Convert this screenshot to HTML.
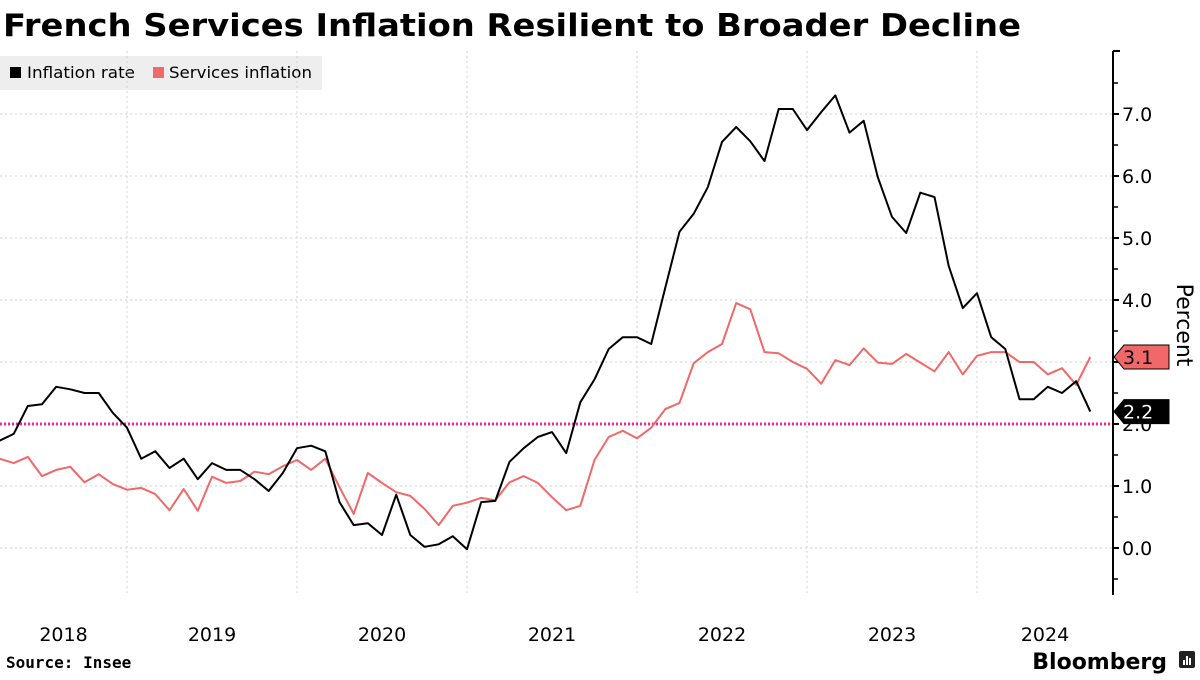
<!DOCTYPE html>
<html><head><meta charset="utf-8"><style>
body{margin:0;width:1200px;height:675px;background:#fff;overflow:hidden;font-family:"Liberation Sans","DejaVu Sans",sans-serif;}
svg text{font-family:"DejaVu Sans","Liberation Sans",sans-serif;}
</style></head><body>
<svg id="c" width="1200" height="675" xmlns="http://www.w3.org/2000/svg">
<text x="3" y="36" font-size="31" font-weight="bold" fill="#000" textLength="1018" lengthAdjust="spacingAndGlyphs" style="font-family:'DejaVu Sans',sans-serif">French Services Inflation Resilient to Broader Decline</text>
<g>
<rect x="0" y="56" width="322" height="34" fill="#eeeeee"/>
<g><rect x="10" y="67" width="11" height="11" fill="#000"/><text x="27" y="78" font-size="16" textLength="108" lengthAdjust="spacingAndGlyphs">Inflation rate</text></g>
<g><rect x="153" y="67" width="11" height="11" fill="#f06868"/><text x="169" y="78" font-size="16" textLength="143" lengthAdjust="spacingAndGlyphs">Services inflation</text></g>
</g>
<g id="grid"></g>
<g id="series"></g>
<g id="axis"></g>
<g id="xaxis"></g>
<text transform="translate(1177,325) rotate(90)" font-size="22" text-anchor="middle">Percent</text>
<text x="6" y="668" font-size="16" font-weight="bold" style="font-family:'DejaVu Sans Mono','Liberation Mono',monospace">Source: Insee</text>
<text x="1167" y="669" font-size="22" font-weight="bold" text-anchor="end">Bloomberg</text>
<g><rect x="1179" y="651" width="16" height="17" rx="2" fill="#222"/><rect x="1183" y="660" width="2" height="5" fill="#fff"/><rect x="1186" y="656" width="2" height="9" fill="#fff"/><rect x="1189" y="658" width="2" height="7" fill="#fff"/></g>
</svg>
<script>
const startYear = 2018, startMonth = 2; // March 2018 (0-based)
const inflationRate = [1.73,1.84,2.29,2.32,2.6,2.56,2.5,2.5,2.18,1.94,
1.44,1.56,1.29,1.44,1.11,1.37,1.26,1.26,1.11,0.92,1.21,1.61,
1.65,1.56,0.74,0.37,0.40,0.21,0.86,0.21,0.02,0.06,0.19,-0.02,
0.74,0.76,1.39,1.61,1.79,1.87,1.53,2.35,2.72,3.21,3.4,3.4,
3.29,4.2,5.1,5.39,5.82,6.55,6.79,6.56,6.24,7.08,7.08,6.74,
7.03,7.3,6.7,6.89,5.98,5.34,5.08,5.73,5.66,4.55,3.87,4.11,
3.4,3.21,2.4,2.4,2.6,2.5,2.69,2.2];
const servicesInflation = [1.44,1.37,1.47,1.16,1.26,1.31,1.06,1.19,1.03,0.94,
0.97,0.87,0.61,0.95,0.6,1.15,1.05,1.08,1.23,1.19,1.32,1.42,
1.26,1.44,0.98,0.55,1.21,1.05,0.9,0.84,0.63,0.37,0.68,0.73,
0.81,0.77,1.06,1.16,1.05,0.82,0.61,0.68,1.42,1.79,1.89,1.77,
1.94,2.24,2.34,2.98,3.16,3.29,3.95,3.85,3.16,3.14,3.0,2.89,
2.65,3.03,2.95,3.22,2.99,2.97,3.13,2.99,2.85,3.16,2.8,3.1,
3.16,3.16,3.0,3.0,2.8,2.9,2.63,3.08];
const yTicks = [0,1,2,3,4,5,6,7];
const yearLabels = ["2018","2019","2020","2021","2022","2023","2024"];
const targetValue = 2.0;

const NS="http://www.w3.org/2000/svg";
const plotL=0, plotR=1113, plotT=51, plotB=595;
const monthW=170/12;
function xm(m){return -43 + (m+1)*monthW;}
function xYear(i){return -43 + i*170;}
function y(v){return 548 - v*62;}
function mk(tag,attrs,parent){const e=document.createElementNS(NS,tag);for(const k in attrs)e.setAttribute(k,attrs[k]);parent.appendChild(e);return e;}
const grid=document.getElementById('grid'), series=document.getElementById('series'), axis=document.getElementById('axis'), xaxis=document.getElementById('xaxis');
yTicks.forEach(v=>{
  const l=mk('line',{x1:plotL,x2:plotR,y1:y(v),y2:y(v),stroke:'#d0d0d0','stroke-dasharray':'2,3','stroke-width':1},grid);
  
  
  const t=mk('line',{x1:plotR,x2:plotR+6,y1:y(v),y2:y(v),stroke:'#000','stroke-width':2},axis);
  
  
  const mt=mk('line',{x1:plotR,x2:plotR+5,y1:y(v+0.5),y2:y(v+0.5),stroke:'#000','stroke-width':1.5},axis);
  
  
  const tx=mk('text',{x:plotR+9,y:y(v)+7,'font-size':19,fill:'#000'},axis);
  tx.textContent=v.toFixed(1);
  
  
});
const mt0=mk('line',{x1:plotR,x2:plotR+5,y1:y(-0.5),y2:y(-0.5),stroke:'#000','stroke-width':1.5},axis);


const topT=mk('line',{x1:plotR,x2:plotR+7,y1:plotT,y2:plotT,stroke:'#000','stroke-width':2},axis);


const ax=mk('line',{x1:plotR,x2:plotR,y1:plotT,y2:plotB,stroke:'#000','stroke-width':2},axis);


yearLabels.forEach((lab,i)=>{
  const x0=Math.max(plotL,xYear(i)), x1=Math.min(plotR,xYear(i+1));
  if(i>0){
    const g=mk('line',{x1:xYear(i),x2:xYear(i),y1:plotT,y2:plotB,stroke:'#d0d0d0','stroke-dasharray':'2,3','stroke-width':1},grid);
    
    
  }
  const t=mk('text',{x:(x0+x1)/2,y:641,'font-size':19,'text-anchor':'middle'},xaxis);
  t.textContent=lab;
  
  
});
const tl=mk('line',{x1:plotL,x2:plotR,y1:y(targetValue),y2:y(targetValue),stroke:'#e0309a','stroke-width':3,'stroke-dasharray':'2,2'},series);


function path(arr){return arr.map((v,i)=>(i?'L':'M')+xm(startMonth+i).toFixed(1)+','+y(v).toFixed(1)).join(' ');}
const ps=mk('path',{d:path(servicesInflation),fill:'none',stroke:'#f06868','stroke-width':2,'stroke-linejoin':'round'},series);


const pi=mk('path',{d:path(inflationRate),fill:'none',stroke:'#000','stroke-width':2,'stroke-linejoin':'round'},series);


function tag(v,bg,fg,name){
  const yy=y(v);
  const g=mk('g',{},axis);
  
  
  mk('polygon',{points:`${plotR+1},${yy} ${plotR+11},${yy-12} ${plotR+56},${yy-12} ${plotR+56},${yy+12} ${plotR+11},${yy+12}`,fill:bg,stroke:'#000','stroke-width':1},g);
  const t=mk('text',{x:plotR+10,y:yy+7,'font-size':19,fill:fg},g);
  t.textContent=v.toFixed(1);
}
tag(servicesInflation[servicesInflation.length-1],'#f06868','#000','services-last-value-label');
tag(inflationRate[inflationRate.length-1],'#000','#fff','inflation-last-value-label');
</script>
</body></html>
